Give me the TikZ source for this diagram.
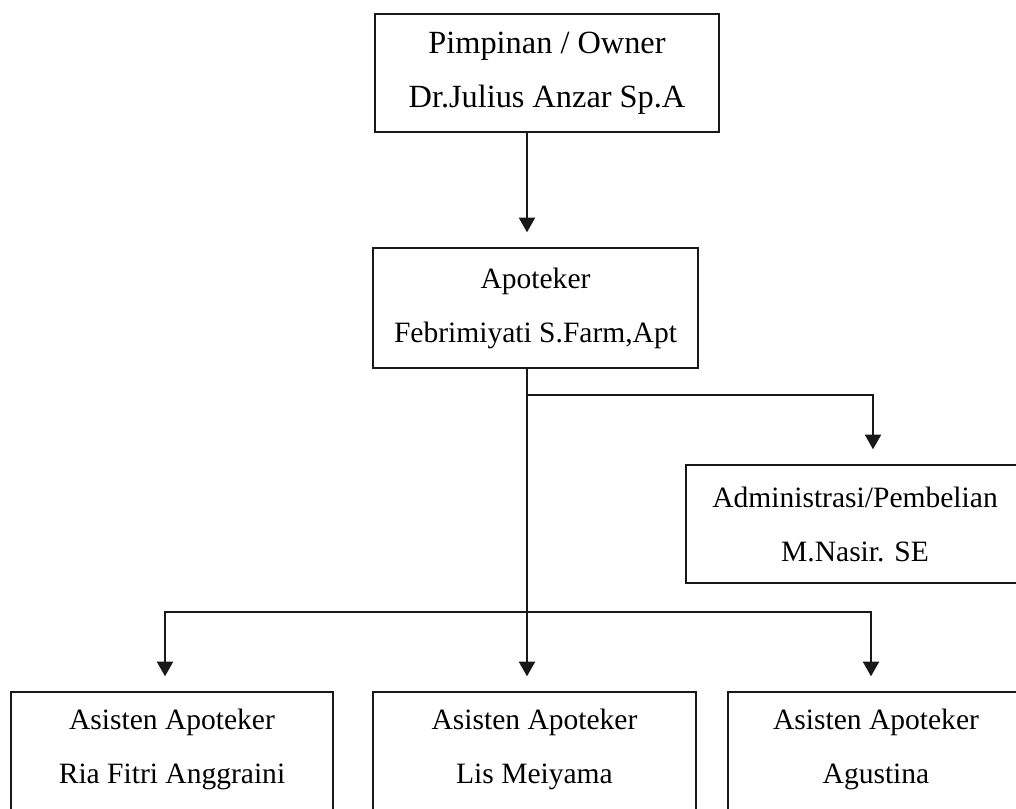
\documentclass[tikz,border=0pt]{standalone}
\usepackage{fontspec}
\setmainfont{Liberation Serif}
\usepackage{tikz}
\usetikzlibrary{arrows.meta,calc}
\definecolor{ink}{RGB}{25,25,25}

\begin{document}
\begin{tikzpicture}[x=0.025cm, y=-0.025cm,
    box/.style={draw=ink, line width=1.3pt, rectangle, align=center,
                font=\fontsize{21pt}{38.4pt}\selectfont, text=black},
    arr/.style={draw=ink, line width=1.3pt, -{Triangle[width=11.5pt,length=10.5pt]}, shorten >=10.5pt}]
    \useasboundingbox (0,0) rectangle (1016,808);
    \clip (0,0) rectangle (1016,808);

    % boxes
    \node[box, minimum width=8.6cm, minimum height=2.95cm, font=\fontsize{23pt}{38.4pt}\selectfont] (owner) at (547,73) {Pimpinan / Owner\\Dr.Julius Anzar Sp.A};
    \node[box, minimum width=8.125cm, minimum height=3cm] (apt) at (535.5,308) {Apoteker\\Febrimiyati S.Farm,Apt};
    \node[box, minimum width=8.45cm, minimum height=2.95cm] (admin) at (855,524) {Administrasi/Pembelian\\M.Nasir. SE};
    \node[box, minimum width=8.05cm, minimum height=4.45cm] (asst1) at (172,781) {Asisten Apoteker\\Ria Fitri Anggraini\\\strut};
    \node[box, minimum width=8.075cm, minimum height=4.45cm] (asst2) at (534.5,781) {Asisten Apoteker\\Lis Meiyama\\\strut};
    \node[box, minimum width=7.4cm, minimum height=4.45cm] (asst3) at (876,781) {Asisten Apoteker\\Agustina\\\strut};

    % main line and branch points
    \coordinate (spine) at (527,0);
    \coordinate (jA) at (527,395);
    \coordinate (jB) at (527,612);

    \draw[arr] (spine |- owner.south) -- (spine |- apt.north);
    \draw[arr] (spine |- apt.south) -- (spine |- asst2.north);
    \draw[arr] (jA) -| ($(admin.north)+(18,0)$);
    \draw[arr] (jB) -| ($(asst1.north)+(-7,0)$);
    \draw[arr] (jB) -| ($(asst3.north)+(-5,0)$);
\end{tikzpicture}
\end{document}
